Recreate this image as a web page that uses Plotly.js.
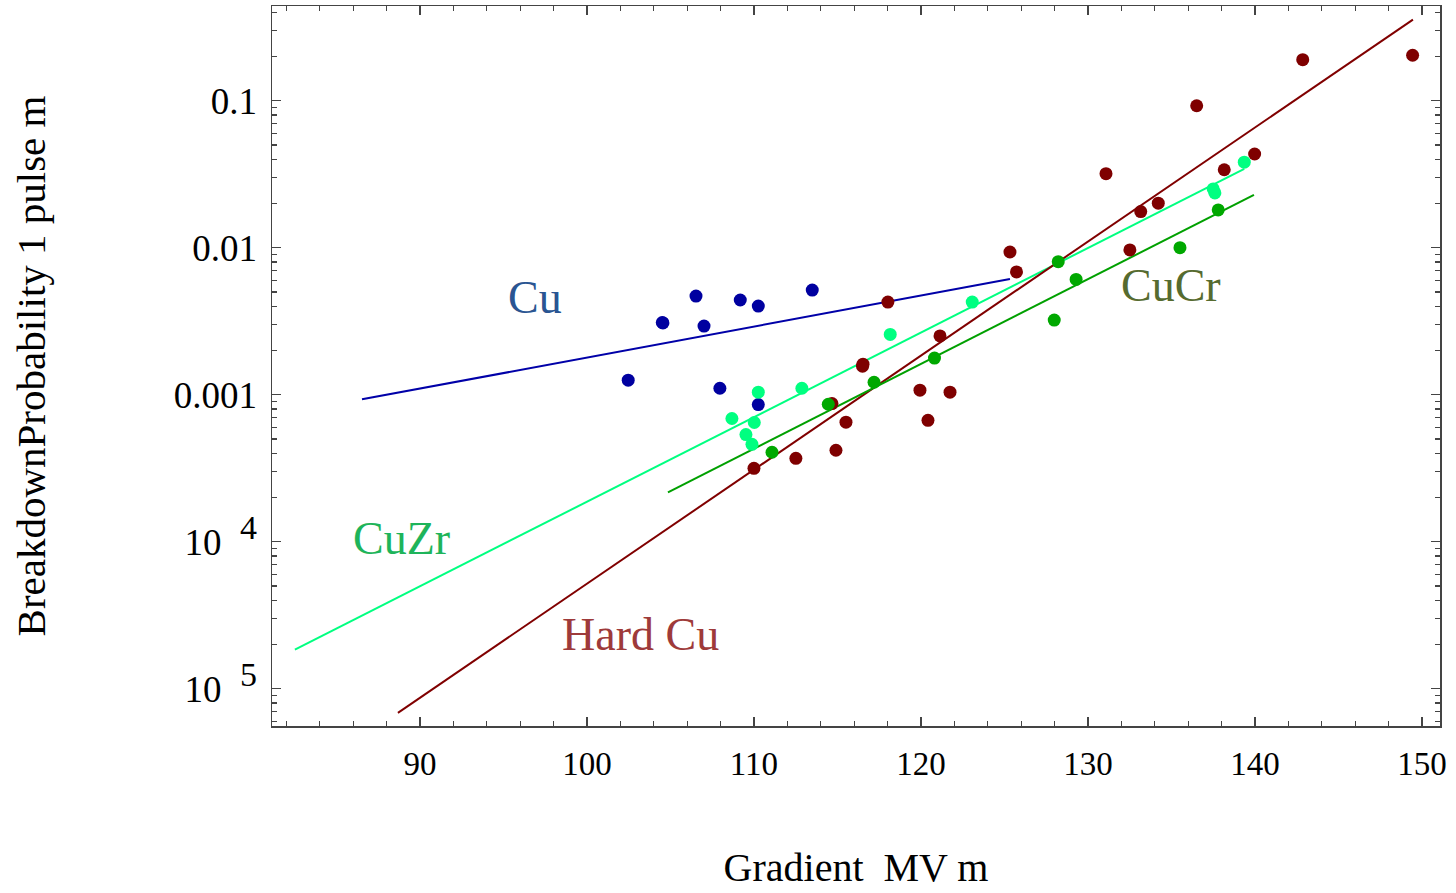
<!DOCTYPE html>
<html>
<head>
<meta charset="utf-8">
<script src="https://cdn.plot.ly/plotly-3.0.1.min.js"></script>
<style>html,body{margin:0;padding:0;background:#fff;}#chart{width:1456px;height:893px;}</style>
</head>
<body>
<div id="chart"></div>
<script>
// ---- Data ----
// Cu (soft copper)
const cuX = [104.51, 104.55, 106.53, 107.01, 109.18, 110.26, 113.49, 102.47, 107.96, 110.26];
const cuY = [0.0031, 0.00308, 0.00469, 0.00293, 0.00441, 0.00401, 0.00515, 0.001256, 0.001107, 0.000857];
const cuFitX = [86.53, 125.33];
const cuFitY = [0.00093, 0.00612];

// Hard Cu
const hardX = [110.0, 112.51, 114.67, 114.91, 115.51, 116.50, 116.53, 118.02, 119.94, 120.42, 121.14, 121.74,
               125.33, 125.72, 131.08, 132.51, 133.16, 134.21, 136.51, 138.16, 139.98, 142.86, 149.44];
const hardY = [3.155e-4, 3.69e-4, 8.71e-4, 4.19e-4, 6.50e-4, 1.563e-3, 1.614e-3, 4.27e-3, 1.074e-3, 6.70e-4, 2.51e-3, 1.040e-3,
               9.35e-3, 6.84e-3, 0.0319, 9.66e-3, 0.0176, 0.0201, 0.0924, 0.0339, 0.0434, 0.190, 0.2037];
const hardFitX = [88.68, 149.46];
const hardFitY = [6.86e-6, 0.356];

// CuZr
const zrX = [108.68, 109.52, 109.88, 110.02, 110.26, 112.87, 118.16, 123.07, 137.50, 137.60, 139.36];
const zrY = [6.89e-4, 5.36e-4, 4.60e-4, 6.47e-4, 1.040e-3, 1.107e-3, 2.57e-3, 4.27e-3, 0.0251, 0.0236, 0.0382];
const zrFitX = [82.51, 139.36];
const zrFitY = [1.845e-5, 0.0344];

// CuCr
const crX = [111.08, 114.45, 117.19, 120.81, 127.98, 128.22, 129.29, 135.51, 137.80];
const crY = [4.06e-4, 8.61e-4, 1.216e-3, 1.774e-3, 3.22e-3, 8.04e-3, 6.08e-3, 0.0100, 0.01807];
const crFitX = [104.85, 139.94];
const crFitY = [2.17e-4, 0.02286];

// Axis tick labels (as shown in the reference)
const yTickVals = [1e-5, 1e-4, 1e-3, 1e-2, 1e-1];
const yTickText = ['10&nbsp;&nbsp;<sup><span style="font-size:34px">5</span></sup>',
                   '10&nbsp;&nbsp;<sup><span style="font-size:34px">4</span></sup>',
                   '0.001', '0.01', '0.1'];

// minor log tick positions
const yMinor = [];
for (let e = -6; e <= 0; e++) { for (let m = 2; m <= 9; m++) yMinor.push(m * Math.pow(10, e)); }

const FONT = 'Liberation Serif, Times New Roman, serif';
const C = {cu:'#0000a0', hard:'#7f0000', zr:'#00ff80', cr:'#00a800'};

function line(x, y, color) {
  return {x:x, y:y, type:'scatter', mode:'lines', line:{color:color, width:2}, hoverinfo:'skip', showlegend:false};
}
function pts(x, y, color, name) {
  return {x:x, y:y, type:'scatter', mode:'markers', name:name, marker:{color:color, size:13, line:{width:0}}, showlegend:false};
}

const data = [
  line(cuFitX, cuFitY, '#0000a8'),
  line(zrFitX, zrFitY, C.zr),
  line(hardFitX, hardFitY, '#800000'),
  line(crFitX, crFitY, '#00a000'),
  pts(cuX, cuY, C.cu, 'Cu'),
  pts(zrX, zrY, C.zr, 'CuZr'),
  pts(hardX, hardY, C.hard, 'Hard Cu'),
  pts(crX, crY, C.cr, 'CuCr')
];

const axisCommon = {
  showline:true, linecolor:'#444', linewidth:1.5, mirror:'allticks',
  ticks:'inside', ticklen:9, tickcolor:'#444', tickwidth:1.2,
  showgrid:false, zeroline:false
};

const layout = {
  width:1456, height:893,
  margin:{l:272, r:16, t:6, b:167},
  paper_bgcolor:'#fff', plot_bgcolor:'#fff',
  showlegend:false,
  font:{family:FONT, color:'#000'},
  xaxis: Object.assign({}, axisCommon, {
    range:[81.14, 151.08], tick0:0, dtick:10,
    tickfont:{family:FONT, size:33, color:'#000'},
    ticklabelstandoff:8,
    minor:{dtick:2, tick0:0, ticks:'inside', ticklen:5, tickcolor:'#444', showgrid:false},
    title:{text:'Gradient&nbsp;&nbsp;MV m', font:{family:FONT, size:40, color:'#000'}, standoff:72}
  }),
  yaxis: Object.assign({}, axisCommon, {
    type:'log', range:[Math.log10(5.58e-6), Math.log10(0.4406)],
    tickmode:'array', tickvals:yTickVals, ticktext:yTickText,
    tickfont:{family:FONT, size:37, color:'#000'},
    ticklabelstandoff:6,
    minor:{tickmode:'array', tickvals:yMinor, ticks:'inside', ticklen:5, tickcolor:'#444', showgrid:false},
    title:{text:'BreakdownProbability 1 pulse m', font:{family:FONT, size:41, color:'#000'}, standoff:115}
  }),
  annotations:[
    {x:96.9, y:Math.log10(0.00461), xref:'x', yref:'y', text:'Cu', showarrow:false, font:{family:FONT, size:46, color:'#2a5592'}},
    {x:88.9, y:Math.log10(1.05e-4), xref:'x', yref:'y', text:'CuZr', showarrow:false, font:{family:FONT, size:46, color:'#1eb45a'}},
    {x:103.2, y:Math.log10(2.33e-5), xref:'x', yref:'y', text:'Hard Cu', showarrow:false, font:{family:FONT, size:46, color:'#9e3a3a'}},
    {x:135.0, y:Math.log10(0.00557), xref:'x', yref:'y', text:'CuCr', showarrow:false, font:{family:FONT, size:46, color:'#566b2f'}}
  ]
};

Plotly.newPlot('chart', data, layout, {displayModeBar:false, staticPlot:true});
</script>
</body>
</html>
